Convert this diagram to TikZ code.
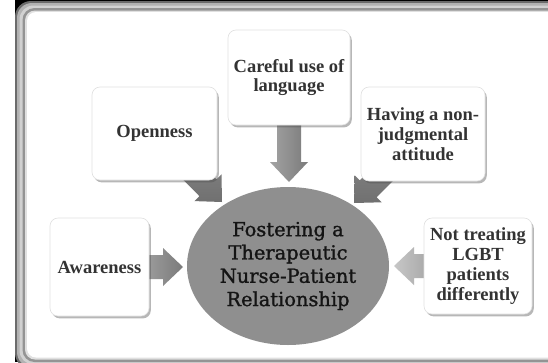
\documentclass[tikz,border=0pt]{standalone}
\usepackage{fontspec}
\setmainfont{Liberation Serif}
\newfontfamily\ellfont[FakeBold=1.3]{DejaVu Serif}
\usetikzlibrary{calc,shadows,shapes.geometric}
\pgfdeclarelayer{bg}
\pgfdeclarelayer{mid}
\pgfsetlayers{bg,mid,main}
\newcommand\blockarr[3]{%
  \coordinate (ba) at ($(#2)!20pt!(#1)$);
  \shade[#3] ($(#1)!12pt!90:(#2)$) -- ($(ba)!12pt!90:(#2)$) -- ($(ba)!19pt!90:(#2)$) -- (#2)
    -- ($(ba)!19pt!-90:(#2)$) -- ($(ba)!12pt!-90:(#2)$) -- ($(#1)!12pt!-90:(#2)$) -- cycle;}
\tikzset{
  box/.style={rounded corners=8pt, fill=white, draw=black!12, line width=0.6pt,
    align=center, text=black!80, font=\bfseries\fontsize{18.5}{19.8}\selectfont,
    drop shadow={shadow xshift=1.8pt, shadow yshift=-2.4pt, opacity=0.4, fill=black!70},
    inner sep=2pt},
  center/.style={ellipse, fill=black!44, draw=none, align=center, text=black!92,
    font=\ellfont\fontsize{19.4}{23.3}\selectfont, inner sep=0pt},
  harr/.style={left color=black!22, right color=black!52},
  varr/.style={left color=black!36, right color=black!52},
  darr/.style={top color=black!44, bottom color=black!56},
}
\begin{document}
\begin{tikzpicture}[x=1pt,y=-1pt]
\useasboundingbox (0,0) rectangle (548,362);
\clip (0,0) rectangle (548,362);
% nodes
\node[box, minimum width=122pt, minimum height=95pt] (careful) at (289,77.5) {Careful use of\\language};
\node[box, minimum width=125pt, minimum height=93pt] (open) at (154.5,133.5) {Openness};
\node[box, minimum width=124pt, minimum height=94pt] (nonj) at (423,134) {Having a non-\\judgmental\\attitude};
\node[box, minimum width=99pt, minimum height=98pt] (aware) at (99.5,267) {Awareness};
\node[box, minimum width=108pt, minimum height=96pt] (nott) at (478,266) {Not treating\\LGBT\\patients\\differently};
\node[center, minimum width=202pt, minimum height=158pt] (core) at (288,266) {Fostering a\\Therapeutic\\Nurse-Patient\\Relationship};
\coordinate (tipC) at (289,182);
\coordinate (tipO) at (222,202);
\coordinate (tipN) at (354,203);
\coordinate (tipA) at (183,267);
\coordinate (tipT) at (394,266);
% arrows
\begin{pgfonlayer}{mid}
\blockarr{careful.center}{tipC}{varr}
\blockarr{open.center}{tipO}{darr}
\blockarr{nonj.center}{tipN}{darr}
\blockarr{aware.center}{tipA}{harr}
\blockarr{nott.center}{tipT}{harr}
\end{pgfonlayer}
% frame
\begin{pgfonlayer}{bg}
\fill[white] (0,0) rectangle (548,362);
\fill[black] (15,0) rectangle (548,362);
\fill[black!58, rounded corners=16pt] (15,1) rectangle (572,369);
\fill[black!30, rounded corners=15pt] (17,3) rectangle (570,367);
\fill[black!18, rounded corners=14pt] (19.5,5.5) rectangle (567.5,364.5);
\fill[black!42, rounded corners=12pt] (22.5,8) rectangle (564.5,362);
\fill[black!12, rounded corners=10pt] (25,10.5) rectangle (562,359.5);
\fill[white, rounded corners=9pt] (27,12) rectangle (560,357.5);
\end{pgfonlayer}
\end{tikzpicture}
\end{document}
